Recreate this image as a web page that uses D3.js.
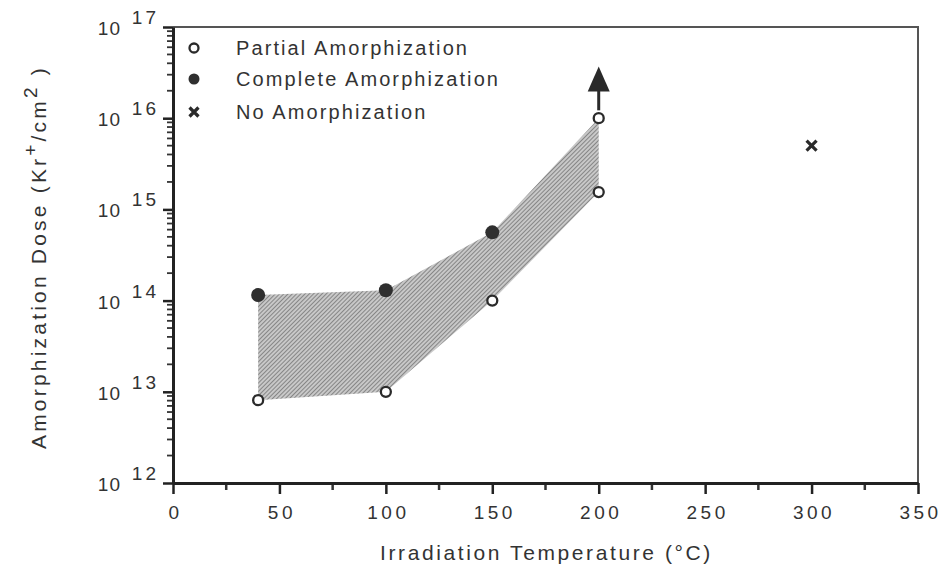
<!DOCTYPE html>
<html>
<head>
<meta charset="utf-8">
<script src="https://cdn.jsdelivr.net/npm/d3@7"></script>
<style>
  body { margin: 0; background: #fff; }
  text { font-family: "Liberation Sans", Arial, sans-serif; fill: #333; }
</style>
</head>
<body>
<div id="chart"></div>
<script>
// data
const partialTemps = [40, 100, 150, 200, 200];
const partialDoses = [8.1e12, 1.0e13, 1.0e14, 1.0e16, 1.55e15];
const completeTemps = [40, 100, 150];
const completeDoses = [1.15e14, 1.3e14, 5.6e14];
const noneTemps = [300];
const noneDoses = [5e15];

// shaded region between partial and complete
const bandTemps = [40, 100, 150, 200];
const bandLow = [8.1e12, 1.0e13, 1.0e14, 1.55e15];
const bandHigh = [1.15e14, 1.3e14, 5.6e14, 1.0e16];

// arrow at 200 C (dose above 1e16)
const arrowTemp = 200;
const arrowFrom = 1.22e16;
const arrowTo = 3.7e16;

const xTicks = [0, 50, 100, 150, 200, 250, 300, 350];
const yExps = [12, 13, 14, 15, 16, 17];
const legendLabels = ["Partial Amorphization", "Complete Amorphization", "No Amorphization"];

const width = 947;
const height = 571;
const margin = {top: 27, right: 29, bottom: 88, left: 173};

const x = d3.scaleLinear([0, 350], [margin.left, width - margin.right]);
const y = d3.scaleLog([1e12, 1e17], [height - margin.bottom, margin.top]);

const svg = d3.select("#chart").append("svg")
    .attr("width", width)
    .attr("height", height);

const defs = svg.append("defs");
const pat = defs.append("pattern")
    .attr("id", "hatch")
    .attr("patternUnits", "userSpaceOnUse")
    .attr("width", 3)
    .attr("height", 3)
    .attr("patternTransform", "rotate(45)");
pat.append("rect").attr("width", 3).attr("height", 3).attr("fill", "#c8c8c8");
pat.append("line").attr("x1", 0).attr("y1", 0).attr("x2", 0).attr("y2", 3)
    .attr("stroke", "#5a5a5a").attr("stroke-width", 1.2);

// band
const band = bandTemps.map((t, i) => ({t, lo: bandLow[i], hi: bandHigh[i]}));
svg.append("path")
    .datum(band)
    .attr("d", d3.area().x(d => x(d.t)).y0(d => y(d.lo)).y1(d => y(d.hi)))
    .attr("fill", "url(#hatch)");

// frame: top and right
svg.append("path")
    .attr("d", `M${x(0)},${y(1e17)}H${x(350)}V${y(1e12)}`)
    .attr("fill", "none")
    .attr("stroke", "#555")
    .attr("stroke-width", 2);

// x axis
const xMinor = d3.range(25, 350, 50);
svg.append("g").selectAll("line").data(xMinor).join("line")
    .attr("x1", d => x(d)).attr("x2", d => x(d))
    .attr("y1", y(1e12)).attr("y2", y(1e12) + 7)
    .attr("stroke", "#333").attr("stroke-width", 2.5);
svg.append("g")
    .attr("transform", `translate(0,${y(1e12)})`)
    .call(d3.axisBottom(x).tickValues(xTicks).tickSize(11).tickSizeOuter(0).tickPadding(12))
    .call(g => g.select(".domain").attr("stroke", "#222").attr("stroke-width", 3))
    .call(g => g.selectAll("line").attr("stroke", "#222").attr("stroke-width", 2.5))
    .call(g => g.selectAll("text")
        .attr("font-size", 19)
        .attr("letter-spacing", 3.5)
        .attr("dx", 2)
        .attr("fill", "#333"));

// y axis
const yMinor = [];
yExps.slice(0, -1).forEach(e => { for (let k = 2; k < 10; k++) yMinor.push(k * Math.pow(10, e)); });
svg.append("g").selectAll("line").data(yMinor).join("line")
    .attr("x1", x(0) - 6).attr("x2", x(0))
    .attr("y1", d => y(d)).attr("y2", d => y(d))
    .attr("stroke", "#333").attr("stroke-width", 1.8);
const yMajor = yExps.map(e => Math.pow(10, e));
svg.append("g")
    .attr("transform", `translate(${x(0)},0)`)
    .call(d3.axisLeft(y).tickValues(yMajor).tickSize(10).tickSizeOuter(0).tickFormat(""))
    .call(g => g.select(".domain").attr("stroke", "#222").attr("stroke-width", 3))
    .call(g => g.selectAll("line").attr("stroke", "#222").attr("stroke-width", 2.5));

const yl = svg.append("g").selectAll("g").data(yExps).join("g")
    .attr("transform", e => `translate(${x(0)},${y(Math.pow(10, e))})`);
yl.append("text")
    .attr("x", -52)
    .attr("y", 8)
    .attr("text-anchor", "end")
    .attr("font-size", 19)
    .attr("letter-spacing", 1)
    .text("10");
yl.append("text")
    .attr("x", -14)
    .attr("y", -3)
    .attr("text-anchor", "end")
    .attr("font-size", 19)
    .attr("letter-spacing", 3)
    .text(e => e);

// markers
function openCircle(sel, cx, cy, r) {
  sel.append("circle").attr("cx", cx).attr("cy", cy).attr("r", r)
      .attr("fill", "#fff").attr("stroke", "#2a2a2a").attr("stroke-width", 2.3);
}
function filledCircle(sel, cx, cy, r) {
  sel.append("circle").attr("cx", cx).attr("cy", cy).attr("r", r).attr("fill", "#2f2f2f");
}
function cross(sel, cx, cy, s) {
  sel.append("path")
      .attr("d", `M${cx - s},${cy - s}L${cx + s},${cy + s}M${cx - s},${cy + s}L${cx + s},${cy - s}`)
      .attr("stroke", "#2a2a2a").attr("stroke-width", 3.2).attr("fill", "none");
}

// arrow
const ax = x(arrowTemp);
const ay0 = y(arrowFrom);
const ay1 = y(arrowTo);
svg.append("line")
    .attr("x1", ax).attr("x2", ax).attr("y1", ay0).attr("y2", ay1 + 20)
    .attr("stroke", "#2a2a2a").attr("stroke-width", 3);
svg.append("path")
    .attr("d", `M${ax},${ay1}L${ax - 11},${ay1 + 25}L${ax + 11},${ay1 + 25}Z`)
    .attr("fill", "#2a2a2a");

const marks = svg.append("g");
completeTemps.forEach((t, i) => filledCircle(marks, x(t), y(completeDoses[i]), 7));
partialTemps.forEach((t, i) => openCircle(marks, x(t), y(partialDoses[i]), 5));
noneTemps.forEach((t, i) => cross(marks, x(t), y(noneDoses[i]), 5));

// legend
const lg = svg.append("g");
const rowsY = [48, 79, 112];
openCircle(lg, 194, rowsY[0], 4.5);
filledCircle(lg, 194, rowsY[1], 5.5);
cross(lg, 194, rowsY[2], 4.5);
lg.selectAll("text").data(legendLabels).join("text")
    .attr("x", 236)
    .attr("y", (d, i) => rowsY[i] + 7)
    .attr("font-size", 20)
    .attr("letter-spacing", 2.1)
    .text(d => d);

// axis titles
svg.append("text")
    .attr("x", (x(0) + x(350)) / 2 + 1)
    .attr("y", 560)
    .attr("text-anchor", "middle")
    .attr("font-size", 21)
    .attr("letter-spacing", 2.6)
    .text("Irradiation Temperature (°C)");

const yt = svg.append("text")
    .attr("transform", "translate(46,257) rotate(-90)")
    .attr("text-anchor", "middle")
    .attr("font-size", 21)
    .attr("letter-spacing", 3.2);
yt.append("tspan").text("Amorphization  Dose  (Kr");
yt.append("tspan").attr("dy", -9).attr("font-size", 19).text("+");
yt.append("tspan").attr("dy", 9).text("/cm");
yt.append("tspan").attr("dy", -9).attr("font-size", 19).text("2");
yt.append("tspan").attr("dy", 9).text(" )");
</script>
</body>
</html>
